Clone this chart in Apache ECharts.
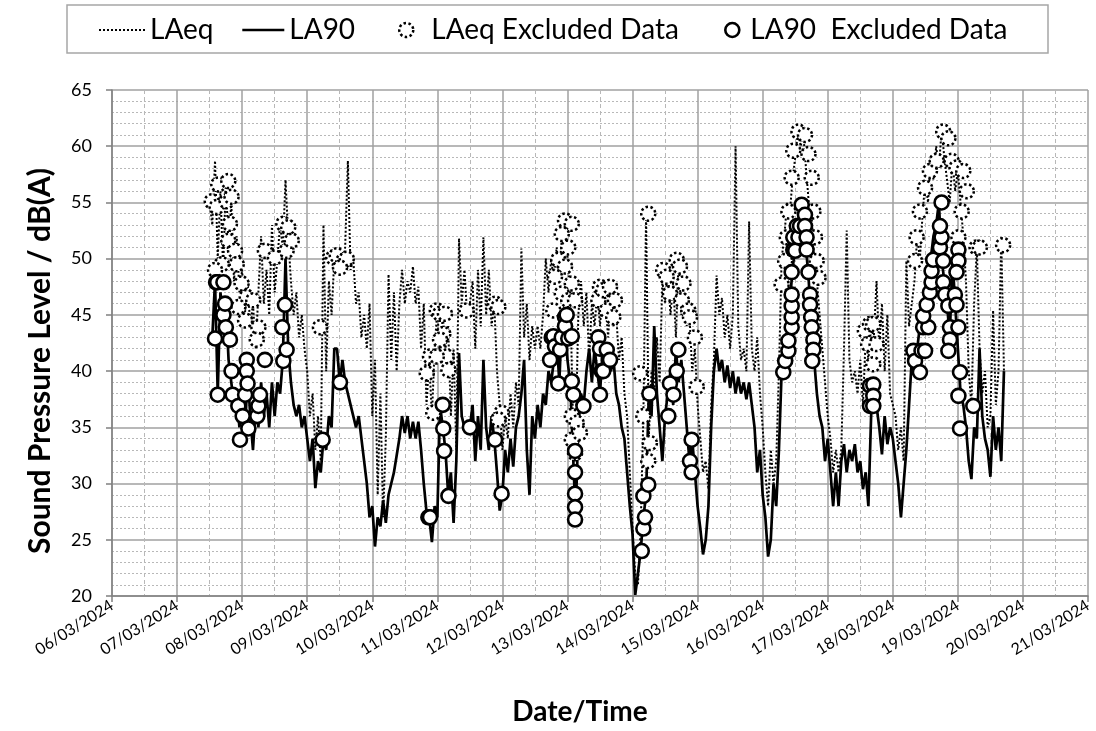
<!DOCTYPE html>
<html><head><meta charset="utf-8">
<script src="https://cdn.jsdelivr.net/npm/echarts@6/dist/echarts.min.js"></script>
<style>html,body{margin:0;padding:0;background:#fff}#c{width:1096px;height:731px}</style>
</head><body><div id="c"></div>
<script>
const FONT = "Lato, 'Open Sans', sans-serif";
// x axis: hours since 06/03/2024 00:00, one tick per day
const axisStartDay = 6;
const xMaxHours = 360;
const yTicks = [20, 25, 30, 35, 40, 45, 50, 55, 60, 65];
const names = ['LAeq', 'LA90', 'LAeq Excluded Data', 'LA90  Excluded Data'];
// hourly readings, first value at hour 36 (07/03 12:00)
const firstHour = 36;
const laeqValues = [
55,53,58.7,50,56,49,57,51,55,48,52,47,
49,45,48,44,46,42,47,52,46,49,45,53,
47,50,53,51,57,52,48,45,47,43,45,42,
40,36,38,33,36,32,53,40,48,45,50,49,
51,49,51,58.7,49,50,46,47,43,45,42,46,
36,41,29,38,27,34,48.6,41,47,40,46,49,
46,48,47,49.3,46,47.5,42,46,37,41,36,42,
45.5,41,45,42,44,36,42,33,51.8,46,49,45,
46,48,42,49,44,51.9,45,49,44,46,40,37,
33,36,34,38,35,39,37,50.9,43,46,41,44,
42,44,42,45,50,47,50,48,51,49,52,53.4,
50,47,36,34,45,48,44,47,41,46,44,47,
44,47,46,43,47,44,45,41,43,38,36,31,
26,22,21,26,36,54,34,40,38,43,39,48,
46,49,45,48,43,49.9,45,47,44,45,40,42,
37,34,31,32,29.5,37,41,48.5,45,46.5,43,45,
42,45,60,44,41,42,40,53.3,42,40,43,38,
35,31,28,33,30,32,40,50,52,55,54,57,
59,61.3,60,61,58,55,54,50,48,45,42,39,
36,34,31,33,31,33,42,52.5,41,39,40,38,
41,37,43,41,44,43,48,42,46,40,45,38,
37,36,33,35,32,49.8,44,46,48,52,50,54,
57,55,59,57,60,58,61.5,59,57,55,58.7,56,
57.8,55,52,48,40,37,46,51,42,38,40,35,
36,45.4,37,40,51.9,40
];
const la90Values = [
43,43,48,38,47,44,46,41,39,37,38,35,
37,34,40,36,33,37,35,39,36,38,35,39,
36,39,38,41,50,42,39,37,36,37,35,36,
34,32,34,29.6,32,31,34,33,36,35,42,42,
39,41,39,38,37,36,35,36,34,32,30,27,
28,24.4,27,26.2,28.5,26.5,29,30,31,32.5,34,36,
34.5,36,34,35.5,34,35.5,33,30,27.5,27,24.8,28,
27,37,35,33,29,31,26.5,32,41.6,36,35,35.5,
35,37,32,36,33,41,35,33,36,34,31,27.6,
29,33,31,34,31.5,35,36,38,41,33,29,36,
34,37,35,38,37,40,39,41,43,39,45,44,
41,39,33,27,35,38,37,40,42,39,42,40,
38,42,41,42,40,41,38,37,35,34,31,28,
25.5,20.1,22,24,27,29,38,36,44,38,35,32,
36,38,40,37,42,39,41,38,35,32,34,31,
28,26,23.7,25,28,35,40,42,40,41,39,40.5,
38.5,40,38,39.5,38,39,37.5,39,37,35,31,33,
29,27,23.5,25,30,28,33,40,41,43,46,49,
51,53,54.8,53,51,48,44,41,38,36,35,32,
34,31,28,31,28,32,33.5,31,33,32,33.5,31,
32,29.5,31,28,36,38.7,36.9,35,32.6,36,33.5,35,
34,32,30,27,30,33,37,41,40,42,44,45,
47,49,50,52,53,55,50,48,46,43,50,46,
42,38,37,35,32,30.4,35,34,42,36,34,33,
30.6,36,33,35,32,40
];
// excluded readings: [hour since 06/03 00:00, dB]
const laeqExcluded = [
[36.8,55.1],[38.6,54.6],[39.2,56.6],[42.9,56.9],[42.3,55.1],[44.1,55.5],[43.5,53.1],[42.9,51.6],[45.4,50.7],[40.5,49.5],[38.0,49.0],[46.0,49.5],[47.8,47.8],[49.7,46.6],[46.6,45.7],[52.1,46.3],[49.1,44.5],[54.0,43.9],[53.4,42.8],[56.4,50.7],[60.1,50.1],[63.2,53.1],[65.0,52.8],[64.4,50.7],[66.3,51.6],[76.7,43.9],
[81.6,50.1],[82.9,50.3],[85.3,49.8],[86.6,50.0],[84.1,49.2],[116.1,39.8],[117.3,41.3],[119.8,45.4],[121.0,45.1],[122.8,45.1],[122.2,43.3],[121.0,42.8],[123.4,41.3],[124.1,40.1],[119.8,41.3],[118.5,36.3],
[130.8,45.4],[141.3,46.0],[142.5,45.7],[143.7,36.3],[142.5,35.7],
[167.1,53.4],[169.6,53.1],[165.9,52.2],[168.3,51.0],[164.6,49.9],[167.1,49.3],[169.6,47.8],[163.4,48.4],[165.9,46.9],[168.3,46.3],[170.8,46.3],[162.8,45.4],
[169.6,36.0],[171.4,35.4],[169.6,33.9],[170.8,32.7],[172.6,34.5],[180.0,47.5],[179.4,46.3],
[181.2,47.2],[183.7,47.5],[185.5,46.3],[182.5,45.4],[184.9,44.8],[194.8,39.8],[196.0,36.0],[198.4,33.6],[197.8,32.0],[197.8,54.0],[203.3,49.0],[204.6,48.4],[208.3,49.9],[209.5,49.3],[205.8,46.9],[210.8,47.8],[210.2,46.3],[212.6,45.4],[213.2,44.8],[215.0,43.0],[215.7,38.6],
[253.2,61.3],[255.6,61.0],[251.3,59.6],[256.9,59.3],[250.7,57.2],[258.1,57.2],[249.5,54.2],[258.7,54.2],[248.9,51.9],[259.3,51.9],[248.3,49.8],[259.9,49.8],[260.6,48.3],[247.0,47.7],[277.7,43.6],[279.6,44.2],[278.9,42.4],[280.8,40.6],
[280.8,44.2],[282.0,42.4],[296.8,51.9],[296.2,49.8],[298.0,54.2],[299.9,56.3],[301.7,57.8],[304.2,58.7],[306.6,61.3],[308.5,60.7],[309.7,58.7],[311.5,58.1],[314.0,57.8],[315.3,56.0],[313.4,54.2],[312.2,51.9],[318.9,51.0],[320.1,51.0],[328.7,51.2]
];
const la90Excluded = [
[38.0,42.9],[38.4,47.9],[38.8,47.9],[39.0,37.9],[41.1,47.9],[41.1,45.0],[41.7,46.0],[42.0,43.9],[43.5,42.8],[44.1,40.0],[44.5,37.9],[46.6,36.9],[47.2,33.9],[48.2,36.0],[49.1,37.9],[49.7,41.0],[49.7,40.0],[50.0,38.9],[50.3,34.9],[53.6,36.0],[54.0,36.9],[54.6,37.9],[56.4,41.0],[62.8,43.9],[63.2,40.9],[63.8,45.9],[64.4,41.9],[77.7,33.9],
[84.1,39.0],[116.7,27.0],[117.3,27.0],[122.0,37.0],[122.2,34.9],[122.5,32.9],[124.1,28.9],[132.0,35.0],
[141.3,33.9],[143.7,29.1],[161.6,41.0],[162.2,43.0],[162.8,43.1],[163.4,42.2],[164.6,38.9],[165.3,41.9],[165.9,43.0],[167.1,44.8],[167.1,44.0],[167.7,45.0],[168.3,42.9],[169.6,43.1],[169.6,39.1],[170.2,37.9],[170.8,32.9],[170.8,31.0],[170.8,29.1],[170.8,27.9],[170.8,26.8],[173.9,36.9],[179.4,43.0],[180.0,42.0],[180.6,40.0],[180.0,37.9],
[181.2,40.0],[182.5,41.9],[183.7,41.0],[195.4,24.0],[196.0,26.0],[196.6,27.0],[196.0,28.9],[197.8,29.9],[198.2,38.0],[205.2,36.0],[205.8,38.9],[207.1,37.9],[208.3,40.0],[208.9,41.9],[213.2,32.0],[213.8,33.9],[213.8,31.0],
[247.6,39.9],[248.3,40.9],[249.5,41.8],[249.5,42.7],[250.7,43.9],[250.7,44.8],[250.7,45.8],[250.7,46.8],[250.7,48.8],[251.3,50.8],[251.3,51.9],[252.0,50.7],[252.6,52.9],[253.2,51.9],[253.8,52.9],[254.4,54.8],[255.6,53.9],[255.6,52.9],[256.2,51.9],[256.2,50.8],[256.9,48.8],[257.5,46.8],[257.5,45.9],[257.9,44.8],[258.1,43.9],[258.7,42.8],[258.7,41.9],[258.3,40.9],
[279.6,38.7],[279.6,36.9],[280.8,38.8],[280.8,37.8],[280.8,36.9],
[295.6,41.8],[296.2,40.9],[298.0,39.9],[298.6,41.8],[299.9,41.8],[299.2,43.9],[301.1,43.9],[299.2,44.9],[300.5,45.9],[301.7,47.0],[302.3,47.9],[302.3,48.9],[302.9,49.9],[305.4,51.0],[306.0,51.9],[305.4,52.9],[306.0,55.0],[306.6,49.8],[306.6,47.9],[307.3,46.8],[308.5,45.8],[309.1,43.9],[309.1,42.8],[308.5,41.8],[312.2,50.8],[312.2,49.8],[311.5,48.8],[310.9,46.8],[311.5,45.9],[312.2,43.9],[312.8,39.9],[312.2,37.8],[312.8,34.9],[317.7,36.9]
];

const pad2 = n => (n < 10 ? '0' : '') + n;
const toPairs = (vals) => vals.map((v, i) => [firstHour + i, v]);

const chart = echarts.init(document.getElementById('c'), null, {renderer: 'canvas'});
const gridCol = '#a0a0a0';
const legendText = {fontFamily: FONT, fontSize: 28, color: '#000'};
const excludedLaeqStyle = {color: '#fff', borderColor: '#000', borderWidth: 2.5, borderType: [2.5, 2.5], opacity: 1};
const excludedLa90Style = {color: '#fff', borderColor: '#000', borderWidth: 2.6, opacity: 1};
function legendFor(item, left, itemWidth, itemHeight, extra) {
  return Object.assign({
    data: [item], left: left, top: 16, padding: 0, itemWidth: itemWidth, itemHeight: itemHeight,
    selectedMode: false, textStyle: legendText
  }, extra || {});
}
chart.setOption({
  animation: false,
  backgroundColor: '#fff',
  textStyle: {fontFamily: FONT},
  graphic: [{type: 'rect', shape: {x: 67, y: 5, width: 981, height: 48}, style: {fill: 'none', stroke: '#a6a6a6', lineWidth: 1.5}, silent: true}],
  legend: [
    legendFor(names[0], 98, 46, 14, {itemStyle: {opacity: 0}, lineStyle: {color: '#000', width: 2, type: [2, 2]}}),
    legendFor(names[1], 241, 42, 14, {itemStyle: {opacity: 0}, lineStyle: {color: '#000', width: 2.6}}),
    legendFor({name: names[2], icon: 'circle', itemStyle: excludedLaeqStyle}, 398, 40, 14),
    legendFor({name: names[3], icon: 'circle', itemStyle: excludedLa90Style}, 724, 26, 14)
  ],
  grid: {left: 112, right: 8, top: 90, bottom: 133},
  xAxis: {
    type: 'value', min: 0, max: xMaxHours, interval: 24,
    name: 'Date/Time', nameLocation: 'middle', nameGap: 102,
    nameTextStyle: {fontFamily: FONT, fontSize: 28, fontWeight: 'bold', color: '#000', padding: [0, 40, 0, 0]},
    axisLine: {lineStyle: {color: '#808080', width: 1.5}},
    axisTick: {show: true, length: 6, lineStyle: {color: '#808080', width: 1.5}},
    minorTick: {show: false, splitNumber: 2},
    axisLabel: {rotate: 32, margin: 8, fontFamily: FONT, fontSize: 16, color: '#000',
      formatter: v => pad2(axisStartDay + v / 24) + '/03/2024'},
    splitLine: {show: true, lineStyle: {color: gridCol, width: 1.5}},
    minorSplitLine: {show: true, lineStyle: {color: '#b8b8b8', width: 1, type: [4, 3]}}
  },
  yAxis: {
    type: 'value', min: yTicks[0], max: yTicks[yTicks.length - 1], interval: 5,
    name: 'Sound Pressure Level / dB(A)', nameLocation: 'middle', nameGap: 57,
    nameTextStyle: {fontFamily: FONT, fontSize: 30, fontWeight: 'bold', color: '#000', padding: [0, 36, 0, 0]},
    axisLine: {show: true, lineStyle: {color: '#808080', width: 1.5}},
    axisTick: {show: true, length: 6, lineStyle: {color: '#808080', width: 1.5}},
    minorTick: {show: false, splitNumber: 5},
    axisLabel: {margin: 20, fontFamily: FONT, fontSize: 18, color: '#000'},
    splitLine: {show: true, lineStyle: {color: gridCol, width: 1.5}},
    minorSplitLine: {show: true, lineStyle: {color: '#b8b8b8', width: 1, type: [2, 2]}}
  },
  series: [
    {name: names[0], type: 'line', data: toPairs(laeqValues), showSymbol: false, symbol: 'none',
      lineStyle: {color: '#000', width: 2, type: [2, 2]}, itemStyle: {color: '#000'}, z: 2},
    {name: names[1], type: 'line', data: toPairs(la90Values), showSymbol: false, symbol: 'none',
      lineStyle: {color: '#000', width: 2.7}, itemStyle: {color: '#000'}, z: 3},
    {name: names[2], type: 'scatter', data: laeqExcluded, symbol: 'circle', symbolSize: 14,
      itemStyle: excludedLaeqStyle, z: 4},
    {name: names[3], type: 'scatter', data: la90Excluded, symbol: 'circle', symbolSize: 14,
      itemStyle: excludedLa90Style, z: 5}
  ]
});
</script></body></html>
